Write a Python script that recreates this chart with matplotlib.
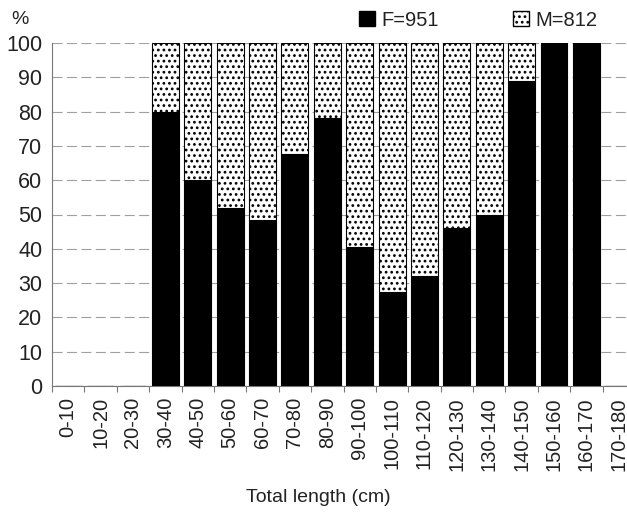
import matplotlib
matplotlib.use("Agg")
import matplotlib.pyplot as plt
from matplotlib.patches import Patch
import numpy as np

# length classes and percentage of females / males per class
classes = ["0-10", "10-20", "20-30", "30-40", "40-50", "50-60", "60-70", "70-80",
           "80-90", "90-100", "100-110", "110-120", "120-130", "130-140", "140-150",
           "150-160", "160-170", "170-180"]
female = [0, 0, 0, 80, 60, 52, 48.5, 67.5, 78, 40.5, 27.5, 32, 46, 50, 89, 100, 100, 0]
male = [0, 0, 0, 20, 40, 48, 51.5, 32.5, 22, 59.5, 72.5, 68, 54, 50, 11, 0, 0, 0]
legend_labels = ["F=951", "M=812"]

plt.rcParams['font.family'] = ['Liberation Sans', 'DejaVu Sans']
plt.rcParams['hatch.linewidth'] = 1.2

fig = plt.figure(figsize=(6.27, 5.14), dpi=100)
ax = fig.add_axes([52/627, 128/514, 583/627, 343/514])

x = np.arange(len(classes))
ax.bar(x, female, width=0.83, color="black", edgecolor="black", linewidth=0.8, zorder=3)
ax.bar(x, male, bottom=female, width=0.83, color="white", edgecolor="black",
       hatch="...", linewidth=0.8, zorder=3)

ax.set_xlim(-0.5, len(classes) - 0.5)
ax.set_ylim(0, 100)

# ticks at class boundaries, labels at class centres
ax.set_xticks(np.arange(-0.5, len(classes), 1))
ax.set_xticklabels([])
ax.set_xticks(x, minor=True)
ax.set_xticklabels(classes, minor=True, rotation=90, fontsize=14.5, color="#222")
ax.tick_params(axis="x", which="major", length=4, color="#777", width=0.8)
ax.tick_params(axis="x", which="minor", length=0, pad=8)

ax.set_yticks(np.arange(0, 101, 10))
ax.tick_params(axis="y", length=0, labelsize=15.5, labelcolor="#222", pad=7)
ax.yaxis.grid(True, color="#a0a0a0", linestyle=(0, (9, 4)), linewidth=0.8, zorder=0)

for side in ["top", "right"]:
    ax.spines[side].set_visible(False)
ax.spines["left"].set_color("#777")
ax.spines["bottom"].set_color("#777")
ax.spines["left"].set_linewidth(0.8)
ax.spines["bottom"].set_linewidth(0.8)

fig.text(20/627, 1 - 20/514, "%", fontsize=14, color="#222", ha="center", va="center")
fig.text(318/627, 1 - 497/514, "Total length (cm)", fontsize=14, color="#222",
         ha="center", va="center")

handles = [Patch(facecolor="black", edgecolor="black"),
           Patch(facecolor="white", edgecolor="black", hatch="...")]
fig.legend(handles, legend_labels, ncol=2, frameon=False, fontsize=14.5,
           loc="center", bbox_to_anchor=(478/627, 1 - 20/514),
           handlelength=0.8, handleheight=0.8, handletextpad=0.3, columnspacing=3.7,
           labelcolor="#222")

fig.savefig("out.png", dpi=100)
